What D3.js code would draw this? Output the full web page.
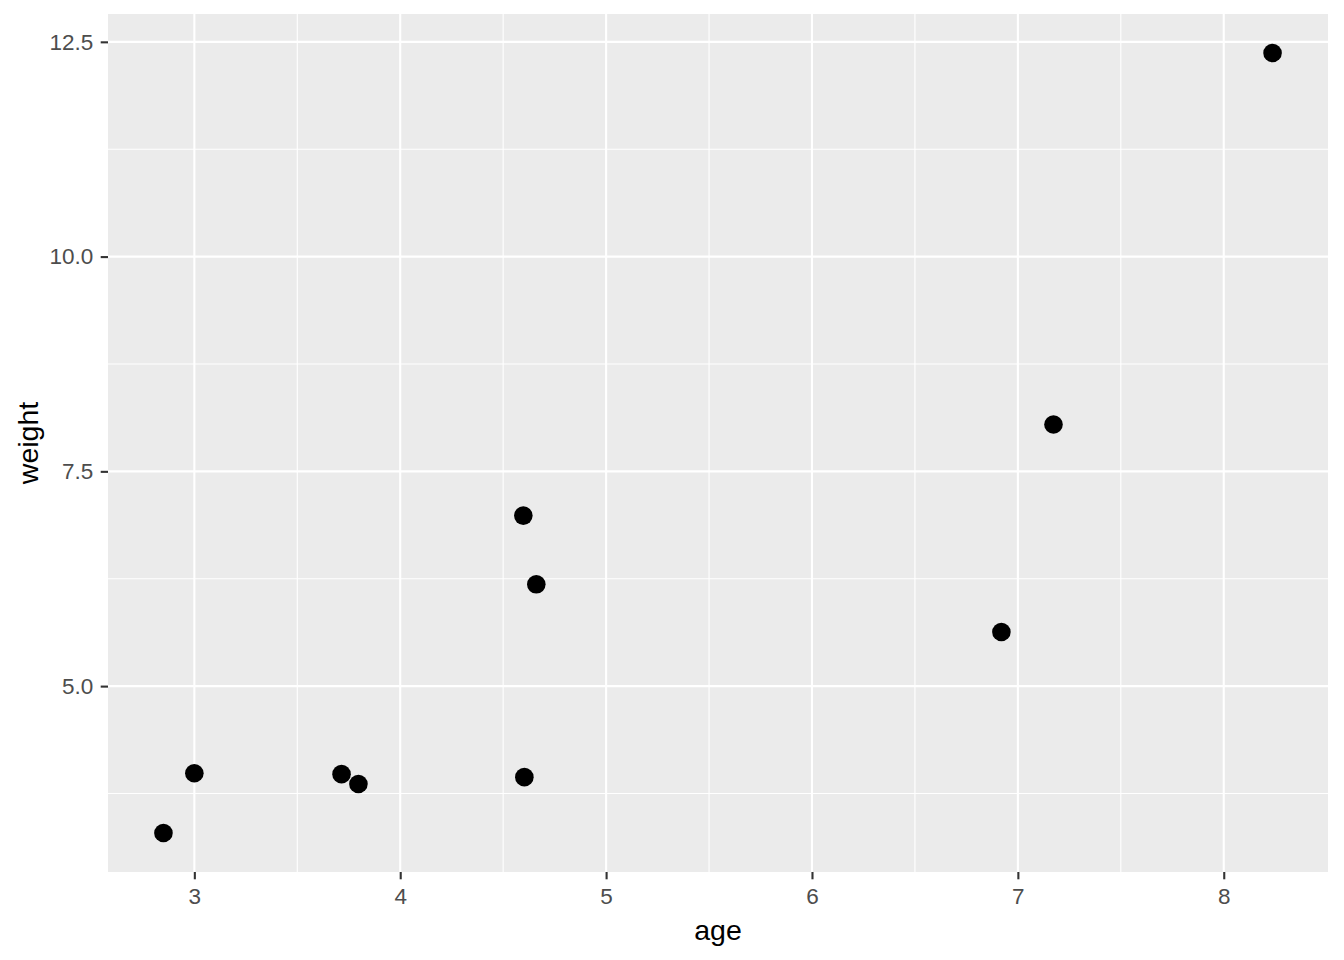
<!DOCTYPE html>
<html>
<head>
<meta charset="utf-8">
<script src="https://cdn.jsdelivr.net/npm/d3@7"></script>
<style>
  html, body { margin: 0; padding: 0; background: #ffffff; }
  svg { display: block; }
</style>
</head>
<body>
<svg id="chart" width="1344" height="960"></svg>
<script>
// Data
const age    = [2.85, 3.00, 3.715, 3.797, 4.598, 4.661, 4.603, 6.92, 7.173, 8.237];
const weight = [3.29, 3.985, 3.975, 3.86, 6.985, 6.185, 3.94, 5.63, 8.045, 12.37];
const xTicks = [3, 4, 5, 6, 7, 8];
const xMinor = [3.5, 4.5, 5.5, 6.5, 7.5];
const yTicks = [5.0, 7.5, 10.0, 12.5];
const yMinor = [3.75, 6.25, 8.75, 11.25];
const xLabel = "age";
const yLabel = "weight";

const W = 1344, H = 960;
const panel = { left: 108, right: 1328, top: 14, bottom: 872 };

function expand(ext, f) {
  const d = ext[1] - ext[0];
  return [ext[0] - d * f, ext[1] + d * f];
}

const x = d3.scaleLinear()
  .domain(expand(d3.extent(age), 0.05))
  .range([panel.left, panel.right]);
const y = d3.scaleLinear()
  .domain(expand(d3.extent(weight), 0.05))
  .range([panel.bottom, panel.top]);

const svg = d3.select("#chart");
const font = "'Liberation Sans', Arial, sans-serif";

// panel background
svg.append("rect")
  .attr("x", panel.left).attr("y", panel.top)
  .attr("width", panel.right - panel.left)
  .attr("height", panel.bottom - panel.top)
  .attr("fill", "#EBEBEB");

const grid = svg.append("g");
// minor grid
grid.selectAll(".xmin").data(xMinor).enter().append("line")
  .attr("x1", d => x(d)).attr("x2", d => x(d))
  .attr("y1", panel.top).attr("y2", panel.bottom)
  .attr("stroke", "#ffffff").attr("stroke-width", 1.1);
grid.selectAll(".ymin").data(yMinor).enter().append("line")
  .attr("y1", d => y(d)).attr("y2", d => y(d))
  .attr("x1", panel.left).attr("x2", panel.right)
  .attr("stroke", "#ffffff").attr("stroke-width", 1.1);
// major grid
grid.selectAll(".xmaj").data(xTicks).enter().append("line")
  .attr("x1", d => x(d)).attr("x2", d => x(d))
  .attr("y1", panel.top).attr("y2", panel.bottom)
  .attr("stroke", "#ffffff").attr("stroke-width", 2.1);
grid.selectAll(".ymaj").data(yTicks).enter().append("line")
  .attr("y1", d => y(d)).attr("y2", d => y(d))
  .attr("x1", panel.left).attr("x2", panel.right)
  .attr("stroke", "#ffffff").attr("stroke-width", 2.1);

// axes
const xAxis = d3.axisBottom(x).tickValues(xTicks).tickFormat(d3.format("d"))
  .tickSize(7.3).tickPadding(9);
const yAxis = d3.axisLeft(y).tickValues(yTicks).tickFormat(d3.format(".1f"))
  .tickSize(7.3).tickPadding(7.5);

const gx = svg.append("g").attr("transform", `translate(0,${panel.bottom})`).call(xAxis);
const gy = svg.append("g").attr("transform", `translate(${panel.left},0)`).call(yAxis);
[gx, gy].forEach(g => {
  g.select(".domain").remove();
  g.selectAll(".tick line").attr("stroke", "#333333").attr("stroke-width", 2.1);
  g.selectAll(".tick text")
    .attr("fill", "#4D4D4D")
    .style("font-family", font)
    .style("font-size", "22.5px");
});

// points
svg.append("g").selectAll("circle")
  .data(age.map((a, i) => ({ a, w: weight[i] })))
  .enter().append("circle")
  .attr("cx", d => x(d.a))
  .attr("cy", d => y(d.w))
  .attr("r", 9.3)
  .attr("fill", "#000000");

// axis titles
svg.append("text")
  .attr("x", (panel.left + panel.right) / 2)
  .attr("y", 940)
  .attr("text-anchor", "middle")
  .style("font-family", font)
  .style("font-size", "28.5px")
  .attr("fill", "#000000")
  .text(xLabel);

svg.append("text")
  .attr("transform", `translate(38,${(panel.top + panel.bottom) / 2}) rotate(-90)`)
  .attr("text-anchor", "middle")
  .style("font-family", font)
  .style("font-size", "28.5px")
  .attr("fill", "#000000")
  .text(yLabel);
</script>
</body>
</html>
